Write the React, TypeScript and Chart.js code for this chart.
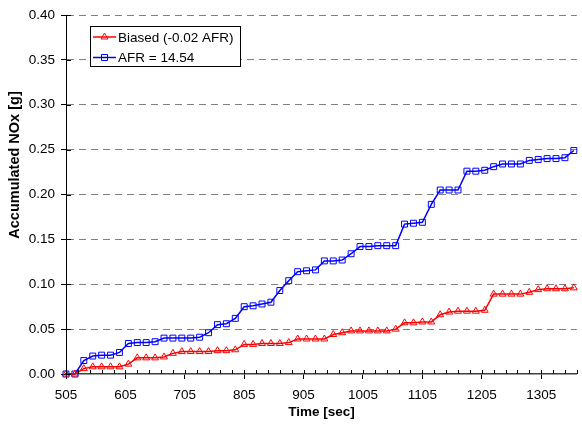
import React, { useEffect, useRef } from 'react';
import { Chart, registerables } from 'chart.js';

Chart.register(...registerables);

// ---------- data ----------
const timeSec = [
  505, 520, 535, 550, 565, 580, 595, 610, 625, 640,
  655, 670, 685, 700, 715, 730, 745, 760, 775, 790,
  805, 820, 835, 850, 865, 880, 895, 910, 925, 940,
  955, 970, 985, 1000, 1015, 1030, 1045, 1060, 1075, 1090,
  1105, 1120, 1135, 1150, 1165, 1180, 1195, 1210, 1225, 1240,
  1255, 1270, 1285, 1300, 1315, 1330, 1345, 1360,
];

const biasedNOx = [
  0, 0, 0.006, 0.008, 0.008, 0.008, 0.008, 0.011, 0.018, 0.018,
  0.018, 0.019, 0.023, 0.025, 0.025, 0.025, 0.025, 0.026, 0.026, 0.027,
  0.033, 0.033, 0.034, 0.034, 0.034, 0.035, 0.039, 0.039, 0.039, 0.039,
  0.044, 0.046, 0.048, 0.048, 0.048, 0.048, 0.048, 0.050, 0.057, 0.057,
  0.058, 0.058, 0.066, 0.069, 0.070, 0.070, 0.070, 0.071, 0.089, 0.089,
  0.089, 0.089, 0.091, 0.094, 0.095, 0.095, 0.095, 0.096,
];

const afr1454NOx = [
  0, 0, 0.015, 0.020, 0.021, 0.021, 0.024, 0.034, 0.035, 0.035,
  0.036, 0.040, 0.040, 0.040, 0.040, 0.041, 0.046, 0.055, 0.056, 0.062,
  0.075, 0.076, 0.078, 0.080, 0.093, 0.104, 0.114, 0.115, 0.116, 0.126,
  0.126, 0.127, 0.134, 0.142, 0.142, 0.143, 0.143, 0.143, 0.167, 0.168,
  0.169, 0.189, 0.205, 0.205, 0.205, 0.226, 0.226, 0.227, 0.231, 0.234,
  0.234, 0.234, 0.238, 0.239, 0.240, 0.240, 0.241, 0.249,
];

const seriesLabels = ['Biased (-0.02 AFR)', 'AFR = 14.54'];
const xTickValues = [505, 605, 705, 805, 905, 1005, 1105, 1205, 1305];
const xTitle = 'Time [sec]';
const yTitle = 'Accumulated NOx [g]';

// ---------- style ----------
const X_MIN = 505;
const X_MAX = 1365;
const X_MINOR_STEP = 20;
const RED = '#FF0000';
const BLUE = '#0000FF';
const FONT = "'Liberation Sans', Arial, Helvetica, sans-serif";
const FS = 13.5;

const decorPlugin = {
  id: 'decor',
  afterDraw(chart: any) {
    const ctx = chart.ctx as CanvasRenderingContext2D;
    const area = chart.chartArea;
    const xs = chart.scales.x;
    const ys = chart.scales.y;
    ctx.save();
    // extra tick marks
    ctx.strokeStyle = '#000';
    ctx.lineWidth = 1;
    ctx.beginPath();
    for (let v = X_MIN; v <= X_MAX; v += X_MINOR_STEP) {
      const px = Math.round(xs.getPixelForValue(v)) + 0.5;
      ctx.moveTo(px, area.bottom);
      ctx.lineTo(px, area.bottom - 4);
    }
    for (const v of xTickValues) {
      const px = Math.round(xs.getPixelForValue(v)) + 0.5;
      ctx.moveTo(px, area.bottom);
      ctx.lineTo(px, area.bottom - 4);
    }
    for (const t of ys.ticks) {
      const py = Math.round(ys.getPixelForValue(t.value)) + 0.5;
      ctx.moveTo(area.left, py);
      ctx.lineTo(area.left + 5, py);
    }
    ctx.stroke();

    // legend
    const lx = 90.5, ly = 26.5, lw = 150, lh = 40;
    ctx.fillStyle = '#fff';
    ctx.fillRect(lx, ly, lw, lh);
    ctx.strokeStyle = '#000';
    ctx.lineWidth = 1;
    ctx.strokeRect(lx, ly, lw, lh);
    const rows = [37, 57.5];
    const colors = [RED, BLUE];
    for (let i = 0; i < 2; i++) {
      const y = rows[i];
      ctx.strokeStyle = colors[i];
      ctx.lineWidth = 1.5;
      ctx.beginPath();
      ctx.moveTo(93, y);
      ctx.lineTo(116, y);
      ctx.stroke();
      ctx.lineWidth = 1;
      ctx.beginPath();
      const cx = 104.5;
      if (i === 0) {
        const r = 4;
        ctx.moveTo(cx, y - r);
        ctx.lineTo(cx + r * 0.866, y + r / 2);
        ctx.lineTo(cx - r * 0.866, y + r / 2);
        ctx.closePath();
      } else {
        ctx.rect(cx - 3, y - 3, 6, 6);
      }
      ctx.stroke();
      ctx.fillStyle = '#000';
      ctx.font = `${FS}px ${FONT}`;
      ctx.textAlign = 'left';
      ctx.textBaseline = 'middle';
      ctx.fillText(chart.data.datasets[i].label, 118, y + 1);
    }

    // axis titles
    ctx.fillStyle = '#000';
    ctx.font = `bold ${FS}px ${FONT}`;
    ctx.textAlign = 'center';
    ctx.textBaseline = 'middle';
    ctx.fillText(xTitle, (area.left + area.right) / 2, 412);
    ctx.save();
    ctx.font = `bold 14.5px ${FONT}`;
    ctx.translate(15, 165);
    ctx.rotate(-Math.PI / 2);
    ctx.fillText(yTitle, 0, 0);
    ctx.restore();
    ctx.restore();
  },
};

export default function App() {
  const ref = useRef<HTMLCanvasElement>(null);
  useEffect(() => {
    if (!ref.current) return;
    const mk = (vals: number[]) => timeSec.map((t, i) => ({ x: t, y: vals[i] }));
    const chart = new Chart(ref.current, {
      type: 'line',
      data: {
        datasets: [
          {
            label: seriesLabels[0],
            data: mk(biasedNOx),
            borderColor: RED,
            backgroundColor: 'rgba(0,0,0,0)',
            borderWidth: 1.5,
            pointStyle: 'triangle',
            pointRadius: 4,
            pointBorderWidth: 1,
            pointBorderColor: RED,
            pointBackgroundColor: 'rgba(0,0,0,0)',
            tension: 0,
            clip: false,
          } as any,
          {
            label: seriesLabels[1],
            data: mk(afr1454NOx),
            borderColor: BLUE,
            backgroundColor: 'rgba(0,0,0,0)',
            borderWidth: 1.5,
            pointStyle: 'rect',
            pointRadius: 4.2,
            pointBorderWidth: 1,
            pointBorderColor: BLUE,
            pointBackgroundColor: 'rgba(0,0,0,0)',
            tension: 0,
            clip: false,
          } as any,
        ],
      },
      options: {
        animation: false,
        responsive: false,
        maintainAspectRatio: false,
        layout: { padding: { top: 15, right: 1, left: 0, bottom: 0 } },
        plugins: { legend: { display: false }, tooltip: { enabled: false }, title: { display: false } },
        scales: {
          x: {
            type: 'linear',
            min: X_MIN,
            max: X_MAX,
            afterBuildTicks: (s: any) => {
              s.ticks = xTickValues.map((v) => ({ value: v }));
            },
            afterFit: (s: any) => {
              s.height = 52;
            },
            ticks: {
              autoSkip: false,
              maxRotation: 0,
              padding: 8,
              color: '#000',
              font: { family: FONT, size: FS },
              callback: (v: any) => String(v),
            },
            grid: { drawOnChartArea: false, drawTicks: true, tickLength: 5, tickColor: '#000', tickWidth: 1 },
            border: { display: true, color: '#404040', width: 1.5 },
          },
          y: {
            type: 'linear',
            min: 0,
            max: 0.4,
            afterFit: (s: any) => {
              s.width = 66;
            },
            ticks: {
              stepSize: 0.05,
              padding: 6,
              color: '#000',
              font: { family: FONT, size: FS },
              callback: (v: any) => Number(v).toFixed(2),
            },
            grid: {
              color: (c: any) => (c.tick && c.tick.value === 0 ? 'rgba(0,0,0,0)' : '#808080'),
              lineWidth: 1,
              drawTicks: true,
              tickLength: 5,
              tickColor: '#000',
              tickWidth: 1,
            },
            border: { display: true, color: '#000', width: 1, dash: [7, 5] },
          },
        },
      },
      plugins: [decorPlugin],
    });
    return () => chart.destroy();
  }, []);
  return (
    <div style={{ position: 'fixed', left: 0, top: 0, width: 582, height: 426, background: '#fff' }}>
      <canvas ref={ref} width={582} height={426} style={{ display: 'block', width: 582, height: 426 }} />
    </div>
  );
}
